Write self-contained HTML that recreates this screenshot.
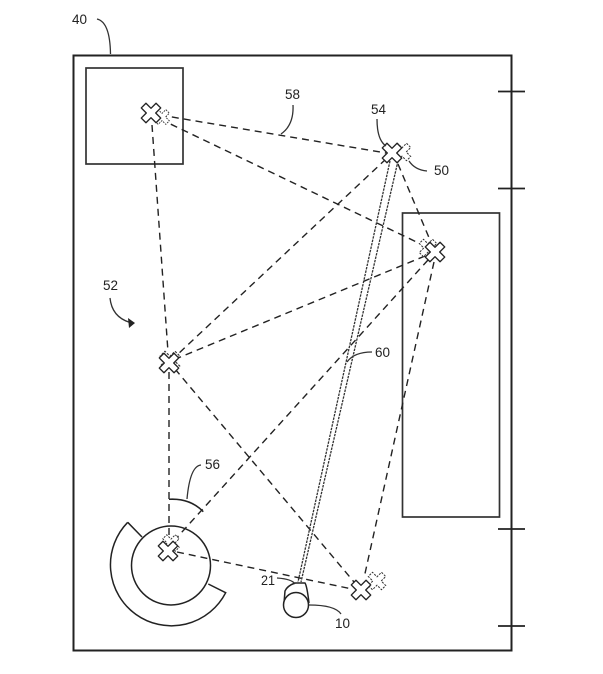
<!DOCTYPE html>
<html><head><meta charset="utf-8"><style>
html,body{margin:0;padding:0;background:#fff;width:603px;height:674px;overflow:hidden}
svg{display:block}
text{font-family:"Liberation Sans",sans-serif;font-size:14px;fill:#222}
.d{stroke:#222;stroke-width:1.4;stroke-dasharray:7 5;fill:none}
.t{stroke:#333;stroke-width:1.3;fill:none}
</style></head><body>
<svg width="603" height="674" viewBox="0 0 603 674" xmlns="http://www.w3.org/2000/svg">
<defs>
<path id="p" d="M-3.500-11H3.500V-3.500H11V3.500H3.500V11H-3.500V3.500H-11V-3.500H-3.500Z"/>
<filter id="b" x="0" y="0" width="100%" height="100%"><feGaussianBlur stdDeviation="0.35"/></filter>
</defs>
<g filter="url(#b)">
<rect x="0" y="0" width="603" height="674" fill="#fff"/>
<rect x="73.500" y="55.500" width="438" height="595" fill="none" stroke="#222" stroke-width="2"/>
<rect x="86" y="68" width="97" height="96" fill="none" stroke="#333" stroke-width="1.700"/>
<rect x="402.500" y="213" width="97" height="304" fill="none" stroke="#333" stroke-width="1.700"/>
<g stroke="#222" stroke-width="1.700">
<line x1="498" y1="91.500" x2="525" y2="91.500"/>
<line x1="498" y1="188.500" x2="525" y2="188.500"/>
<line x1="498" y1="529" x2="525" y2="529"/>
<line x1="498" y1="626" x2="525" y2="626"/>
</g>
<path d="M127.700 522.300A61 61 0 1 0 225.700 592.700L208.300 584" fill="none" stroke="#222" stroke-width="1.500"/>
<path d="M127.700 522.300L142 537" fill="none" stroke="#222" stroke-width="1.500"/>
<circle cx="171" cy="565.500" r="39.500" fill="none" stroke="#222" stroke-width="1.500"/>
<path d="M169 499.300Q190 498 203.300 511.700" fill="none" stroke="#222" stroke-width="1.500"/>
<g class="d">
<line x1="160" y1="115" x2="386" y2="153"/>
<line x1="160" y1="119" x2="427" y2="247"/>
<line x1="152" y1="125" x2="168" y2="352"/>
<line x1="386" y1="159" x2="177" y2="355"/>
<line x1="398" y1="164" x2="430" y2="240"/>
<line x1="425" y1="256" x2="178" y2="358"/>
<line x1="428" y1="260" x2="172" y2="543"/>
<line x1="434" y1="262" x2="364" y2="578"/>
<line x1="169" y1="372" x2="169" y2="540"/>
<line x1="175" y1="369" x2="354" y2="582"/>
<line x1="177" y1="552" x2="352" y2="589"/>
</g>
<g stroke="#333" stroke-width="1.300" stroke-dasharray="2.500 1" fill="none">
<line x1="390" y1="161" x2="298" y2="582"/>
<line x1="398" y1="161" x2="301" y2="582"/>
</g>
<g fill="#fff" stroke="#333" stroke-width="1.200" stroke-dasharray="2.500 1.500">
<use href="#p" transform="translate(162 117) rotate(45) scale(.72)"/>
<use href="#p" transform="translate(402 152) rotate(45) scale(.85)"/>
<use href="#p" transform="translate(428 248) rotate(45) scale(.85)"/>
<use href="#p" transform="translate(170 361) rotate(45) scale(.95)"/>
<use href="#p" transform="translate(171 543) rotate(45) scale(.8)"/>
<use href="#p" transform="translate(377 581) rotate(45) scale(.85)"/>
</g>
<g fill="#fff" stroke="#222" stroke-width="1.400" stroke-linejoin="round">
<use href="#p" transform="translate(151 113) rotate(45) scale(.95)"/>
<use href="#p" transform="translate(392 153) rotate(45) scale(.95)"/>
<use href="#p" transform="translate(435 252) rotate(45) scale(.95)"/>
<use href="#p" transform="translate(169 363) rotate(45) scale(.95)"/>
<use href="#p" transform="translate(168 551) rotate(45) scale(.95)"/>
<use href="#p" transform="translate(361 590) rotate(45) scale(.95)"/>
</g>
<path d="M284 603L285 591Q287 586 295 583L305 583Q307 586 309 603" fill="#fff" stroke="#222" stroke-width="1.500"/>
<circle cx="296" cy="605" r="12.500" fill="#fff" stroke="#222" stroke-width="1.500"/>
<g class="t">
<path d="M97 19Q110 22 110.500 54"/>
<path d="M377 119Q377 140 386 146"/>
<path d="M409 161Q415 170 427 171"/>
<path d="M293 105Q294 125 281 134"/>
<path d="M201 465Q190 466 187 499"/>
<path d="M110 298Q112 318 132 323"/>
<path d="M372 352Q354 352 347 362"/>
<path d="M277 578Q292 579 295 584"/>
<path d="M309 605Q335 605 341 614"/>
</g>
<path d="M135 323L128 318L129 328Z" fill="#222"/>
<text x="72" y="24" textLength="15" lengthAdjust="spacingAndGlyphs">40</text>
<text x="285" y="99" textLength="15" lengthAdjust="spacingAndGlyphs">58</text>
<text x="371" y="114" textLength="15" lengthAdjust="spacingAndGlyphs">54</text>
<text x="434" y="175" textLength="15" lengthAdjust="spacingAndGlyphs">50</text>
<text x="103" y="290" textLength="15" lengthAdjust="spacingAndGlyphs">52</text>
<text x="375" y="357" textLength="15" lengthAdjust="spacingAndGlyphs">60</text>
<text x="205" y="469" textLength="15" lengthAdjust="spacingAndGlyphs">56</text>
<text x="261" y="585" textLength="14" lengthAdjust="spacingAndGlyphs">21</text>
<text x="335" y="628" textLength="15" lengthAdjust="spacingAndGlyphs">10</text>
</g>
</svg>
</body></html>
